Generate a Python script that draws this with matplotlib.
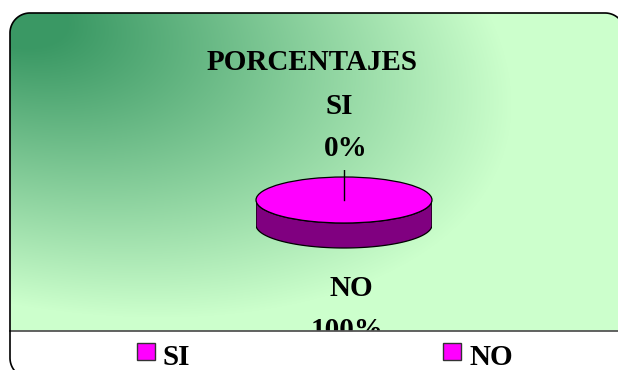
import numpy as np
import matplotlib.pyplot as plt
from matplotlib.patches import Rectangle, Polygon, PathPatch
from matplotlib.path import Path

# data
labels = ['SI', 'NO']
values = [0, 100]
top_colors = ['#ff00ff', '#ff00ff']
side_colors = ['#800080', '#800080']
title = 'PORCENTAJES'

W, H = 618, 370
font = dict(family='Liberation Serif', weight='bold', color='black')

fig = plt.figure(figsize=(W / 100, H / 100), dpi=100)
bg = fig.add_axes([0, 0, 1, 1])
bg.set_xlim(0, W)
bg.set_ylim(H, 0)
bg.axis('off')

# diagonal green gradient, dark in the top-left corner
yy, xx = np.mgrid[0:H, 0:W] + 0.5
dx, dy = xx - 10, yy - 13
ang = np.radians(15)
u = dx * np.cos(ang) + dy * np.sin(ang)
v = -dx * np.sin(ang) + dy * np.cos(ang)
d = np.sqrt((u / 480) ** 2 + (v / 265) ** 2)
t = np.clip((d - 0.12) / 0.95, 0, 1)
c0 = np.array([0x3a, 0x98, 0x64]) / 255
c1 = np.array([0xcc, 0xff, 0xcc]) / 255
img = c0 + (c1 - c0) * t[..., None]
im = bg.imshow(img, extent=(0, W, H, 0), zorder=0, aspect='auto')


# rounded frame: left 10, top 13, right 625, bottom 378, corner radius 20
def arc(cx, cy, a1, a2):
    a = np.radians(np.linspace(a1, a2, 30))
    return np.column_stack([cx + 20 * np.cos(a), cy + 20 * np.sin(a)])


pts = np.vstack([arc(30, 358, 90, 180), arc(30, 33, 180, 270),
                 arc(605, 33, 270, 360), arc(605, 358, 0, 90)])
frame = Path(np.vstack([pts, pts[:1]]))
clip = PathPatch(frame, fc='none', ec='none', transform=bg.transData)
bg.add_patch(clip)
im.set_clip_path(clip)
bg.add_patch(PathPatch(frame, fc='none', ec='black', lw=1.2, zorder=6))

# white legend strip
strip = Rectangle((0, 331), W, 60, fc='white', ec='none', zorder=4)
bg.add_patch(strip)
strip.set_clip_path(clip)
bg.plot([10, W], [331, 331], color='#555555', lw=1.3, zorder=5)

# title
bg.text(312, 62, title, ha='center', va='center', fontsize=21, zorder=3, **font)

# 3D pie
pax = fig.add_axes([256 / W, 1 - 255 / H, 176 / W, 85 / H])
pax.axis('off')
ry = 23.0
thick = 25 / ry
ylim = (1.304 - 85 / ry, 1.304)

fracs = np.array(values, dtype=float) / sum(values)
start = 90.0
angles = []
for f in fracs:
    a1 = start - 360 * f
    angles.append((a1, start))
    start = a1

# side walls: only the front half (180..360 deg) is visible
for (a1, a2), sc in zip(angles, side_colors):
    th = np.linspace(a1, a2, 400) % 360
    vis = (th >= 180) & (th <= 360)
    if not vis.any():
        continue
    th = np.sort(th[vis])
    r = np.radians(th)
    x, y = np.cos(r), np.sin(r)
    poly = np.vstack([np.column_stack([x, y]), np.column_stack([x[::-1], y[::-1] - thick])])
    pax.add_patch(Polygon(poly, closed=True, fc=sc, ec='black', lw=0.9, zorder=1))

wedges, _ = pax.pie(values, colors=top_colors, startangle=90, counterclock=False,
                    wedgeprops=dict(edgecolor='black', linewidth=0.9))
pax.set_aspect('auto')
pax.set_xlim(-1, 1)
pax.set_ylim(*ylim)
for w in wedges:
    w.set_zorder(2)

# leader line for the SI slice
pax.plot([0, 0], [0, 35 / ry], color='black', lw=1, zorder=3)

# slice labels
bg.text(339, 106, labels[0], ha='center', va='center', fontsize=21, zorder=3, **font)
bg.text(346, 148, f'{values[0]}%', ha='center', va='center', fontsize=21, zorder=3, **font)
bg.text(351, 288, labels[1], ha='center', va='center', fontsize=21, zorder=3, **font)
bg.text(347, 330, f'{values[1]}%', ha='center', va='center', fontsize=21, zorder=3, **font)

# legend
for lab, col, x0 in zip(labels, top_colors, [137, 443]):
    bg.add_patch(Rectangle((x0, 343), 18, 17, fc=col, ec='#333333', lw=1, zorder=7))
    bg.text(x0 + 26, 365, lab, ha='left', va='baseline', fontsize=21, zorder=7, **font)

fig.savefig('out.png', dpi=100)
